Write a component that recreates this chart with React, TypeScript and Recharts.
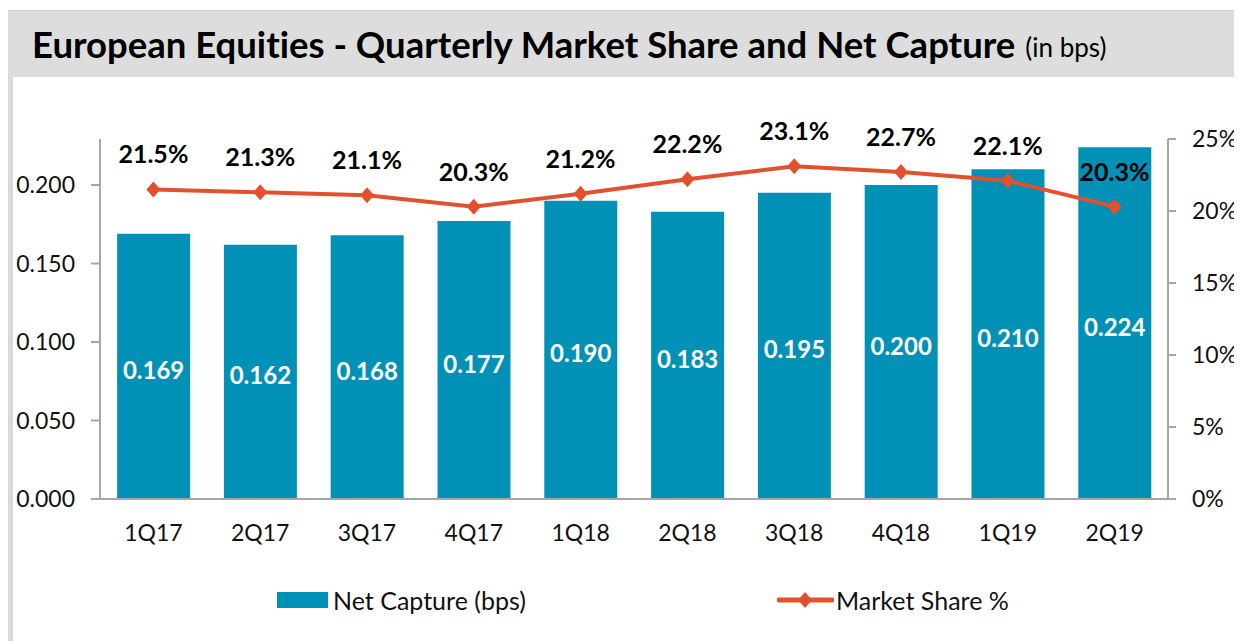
// European Equities — quarterly net capture (bars) and market share (line)
import {
  ComposedChart, Bar, Line, XAxis, YAxis, LabelList,
} from 'recharts';

const quarters = ['1Q17', '2Q17', '3Q17', '4Q17', '1Q18', '2Q18', '3Q18', '4Q18', '1Q19', '2Q19'];
const netCapture = [0.169, 0.162, 0.168, 0.177, 0.19, 0.183, 0.195, 0.2, 0.21, 0.224];
const marketShare = [21.5, 21.3, 21.1, 20.3, 21.2, 22.2, 23.1, 22.7, 22.1, 20.3];
const leftTicks = [0, 0.05, 0.1, 0.15, 0.2];
const rightTicks = [0, 5, 10, 15, 20, 25];

const BAR_COLOR = '#0291b6';
const LINE_COLOR = '#e2502e';
const AXIS_COLOR = '#a6a6a6';
const FONT = 'Lato, "Noto Sans", sans-serif';

const data = quarters.map((q, i) => ({ q, capture: netCapture[i], share: marketShare[i] }));

// 菱形 marker
function Diamond(props: any) {
  const { cx, cy } = props;
  if (cx == null || cy == null) return null;
  return (
    <path
      d={`M${cx},${cy - 8} L${cx + 7},${cy} L${cx},${cy + 8} L${cx - 7},${cy} Z`}
      fill={LINE_COLOR}
    />
  );
}

function ShareLabel(props: any) {
  const { x, y, value } = props;
  return (
    <text x={x} y={y - 26} textAnchor="middle" fontSize={25} fontWeight={700} fill="#000" fontFamily={FONT}>
      {value.toFixed(1)}%
    </text>
  );
}

function CaptureLabel(props: any) {
  const { x, y, width, height, value } = props;
  return (
    <text
      x={x + width / 2}
      y={y + height / 2 + 3}
      textAnchor="middle"
      dominantBaseline="central"
      fontSize={24}
      fontWeight={700}
      fill="#fff"
      fontFamily={FONT}
    >
      {Number(value).toFixed(3)}
    </text>
  );
}

export default function App() {
  return (
    <div style={{ position: 'relative', width: 1234, height: 633, background: '#fff', fontFamily: FONT }}>
      {/* title bar */}
      <div
        style={{
          position: 'absolute', left: 0, top: 2, width: 1234, height: 67,
          background: '#dddddd', borderTop: '1px solid #d0d0d0', boxSizing: 'border-box',
          display: 'flex', alignItems: 'center', paddingLeft: 24, whiteSpace: 'nowrap',
          fontVariantLigatures: 'none',
        }}
      >
        <span style={{ fontSize: 36.5, fontWeight: 700, color: '#000' }}>
          European Equities - Quarterly Market Share and Net Capture
        </span>
        <span style={{ fontSize: 26, color: '#000', marginLeft: 10, marginTop: 6 }}>(in bps)</span>
      </div>
      {/* left border */}
      <div style={{ position: 'absolute', left: 0, top: 69, width: 5, height: 564, background: '#d9d9d9' }} />

      <div style={{ position: 'absolute', left: 0, top: 0 }}>
        <ComposedChart
          width={1234}
          height={633}
          data={data}
          margin={{ top: 131, right: 14, bottom: 112, left: 32 }}
          barCategoryGap="16%"
        >
          <XAxis
            dataKey="q"
            axisLine={{ stroke: AXIS_COLOR, strokeWidth: 2 }}
            tickLine={false}
            tickSize={6}
            tickMargin={20}
            height={30}
            tick={{ fill: '#111', fontSize: 23, fontFamily: FONT }}
          />
          <YAxis
            yAxisId="left"
            domain={[0, 0.2293]}
            ticks={leftTicks}
            width={60}
            axisLine={{ stroke: AXIS_COLOR, strokeWidth: 2 }}
            tickLine={{ stroke: AXIS_COLOR, strokeWidth: 2 }}
            tickSize={9}
            tickMargin={16}
            tickFormatter={(v: number) => v.toFixed(3)}
            tick={{ fill: '#111', fontSize: 23, fontFamily: FONT }}
          />
          <YAxis
            yAxisId="right"
            orientation="right"
            domain={[0, 25]}
            ticks={rightTicks}
            width={60}
            axisLine={{ stroke: AXIS_COLOR, strokeWidth: 2 }}
            tickLine={{ stroke: AXIS_COLOR, strokeWidth: 2 }}
            tickSize={8}
            tickMargin={16}
            tickFormatter={(v: number) => `${v}%`}
            tick={{ fill: '#111', fontSize: 23, fontFamily: FONT, textAnchor: 'start' }}
          />
          <Bar yAxisId="left" dataKey="capture" fill={BAR_COLOR} isAnimationActive={false}>
            <LabelList dataKey="capture" content={<CaptureLabel />} />
          </Bar>
          <Line
            yAxisId="right"
            dataKey="share"
            stroke={LINE_COLOR}
            strokeWidth={4}
            dot={<Diamond />}
            activeDot={false}
            isAnimationActive={false}
          >
            <LabelList dataKey="share" content={<ShareLabel />} />
          </Line>
        </ComposedChart>
      </div>

      {/* legend */}
      <div style={{ position: 'absolute', left: 269, top: 577, display: 'flex', alignItems: 'center', fontSize: 25, color: '#111' }}>
        <div style={{ width: 51, height: 16, background: BAR_COLOR, marginRight: 5 }} />
        <span>Net Capture (bps)</span>
      </div>
      <div style={{ position: 'absolute', left: 769, top: 577, display: 'flex', alignItems: 'center', fontSize: 25, color: '#111' }}>
        <svg width={57} height={18} style={{ marginRight: 2 }}>
          <line x1={2} y1={9} x2={55} y2={9} stroke={LINE_COLOR} strokeWidth={5} strokeLinecap="round" />
          <path d="M28,1 L35,9 L28,17 L21,9 Z" fill={LINE_COLOR} />
        </svg>
        <span>Market Share %</span>
      </div>
    </div>
  );
}
